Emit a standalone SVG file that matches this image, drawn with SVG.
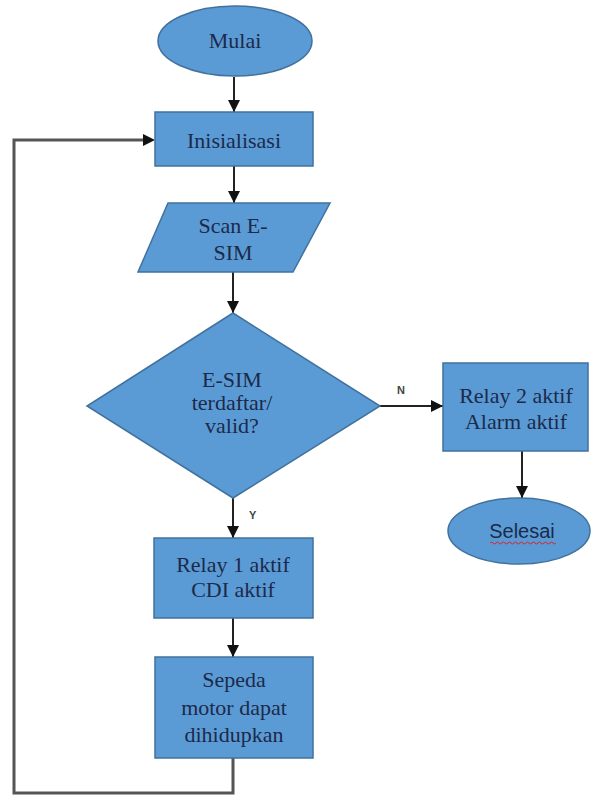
<svg xmlns="http://www.w3.org/2000/svg" width="592" height="796" viewBox="0 0 592 796">
  <style>
    .shape { fill: #5b9bd5; stroke: #41719c; stroke-width: 1.5; }
    .label { font-size: 22px; fill: #1c2a4a; text-anchor: middle; }
    .term { font-size: 20px; fill: #1c2a4a; text-anchor: middle; }
    .flow { fill: none; stroke: #222; stroke-width: 2; }
    .loop { fill: none; stroke: #555; stroke-width: 3; }
    .branch { font-size: 11px; font-weight: bold; fill: #444; }
  </style>
  <defs>
    <marker id="arrow" viewBox="0 0 10 10" refX="10" refY="5" markerWidth="6" markerHeight="6" orient="auto" markerUnits="strokeWidth">
      <path d="M0,0 L10,5 L0,10 z" fill="#111"/>
    </marker>
  </defs>
  <rect width="592" height="796" fill="#ffffff"/>

  <g id="connectors">
    <line class="flow" x1="234" y1="77" x2="234" y2="112" marker-end="url(#arrow)"/>
    <line class="flow" x1="234" y1="166" x2="234" y2="203" marker-end="url(#arrow)"/>
    <line class="flow" x1="233" y1="272" x2="233" y2="313" marker-end="url(#arrow)"/>
    <line class="flow" x1="233" y1="498" x2="233" y2="538" marker-end="url(#arrow)"/>
    <line class="flow" x1="233" y1="618" x2="233" y2="657" marker-end="url(#arrow)"/>
    <line class="flow" x1="380" y1="406" x2="443" y2="406" marker-end="url(#arrow)"/>
    <line class="flow" x1="522" y1="451" x2="522" y2="498" marker-end="url(#arrow)"/>
    <polyline class="loop" points="233,758 233,793 14,793 14,140 145,140"/>
    <path d="M143,134 L155,140 L143,146 z" fill="#111"/>
    <g font-family="Liberation Sans, Arial, sans-serif">
      <text class="branch" x="397" y="394">N</text>
      <text class="branch" x="249" y="519">Y</text>
    </g>
  </g>

  <g font-family="Liberation Serif, Times New Roman, serif">
    <g id="mulai">
      <ellipse class="shape" cx="235" cy="41" rx="77" ry="35"/>
      <text class="label" x="235" y="48">Mulai</text>
    </g>

    <g id="inisialisasi">
      <rect class="shape" x="155" y="112" width="158" height="54"/>
      <text class="label" x="234" y="148">Inisialisasi</text>
    </g>

    <g id="scan-esim">
      <polygon class="shape" points="168,203 330,203 293,272 138,272"/>
      <text class="label" x="233" y="233">Scan E-</text>
      <text class="label" x="233" y="260">SIM</text>
    </g>

    <g id="cek-esim">
      <polygon class="shape" points="233,313 380,406 233,498 87,406"/>
      <text class="label" x="232" y="387">E-SIM</text>
      <text class="label" x="232" y="410">terdaftar/</text>
      <text class="label" x="232" y="433">valid?</text>
    </g>

    <g id="relay2">
      <rect class="shape" x="443" y="363" width="145" height="88"/>
      <text class="label" x="516" y="403">Relay 2 aktif</text>
      <text class="label" x="516" y="429">Alarm aktif</text>
    </g>

    <g id="selesai">
      <ellipse class="shape" cx="519" cy="531" rx="71" ry="33"/>
      <text class="term" x="522" y="538" font-family="Liberation Sans, Arial, sans-serif">Selesai</text>
      <path d="M490,543 q1.5,-2 3,0 t3,0 t3,0 t3,0 t3,0 t3,0 t3,0 t3,0 t3,0 t3,0 t3,0 t3,0 t3,0 t3,0 t3,0 t3,0 t3,0 t3,0 t3,0 t3,0 t3,0 t3,0" fill="none" stroke="#e02020" stroke-width="1"/>
    </g>

    <g id="relay1">
      <rect class="shape" x="154" y="538" width="159" height="80"/>
      <text class="label" x="233" y="572">Relay 1 aktif</text>
      <text class="label" x="233" y="597">CDI aktif</text>
    </g>

    <g id="sepeda-motor">
      <rect class="shape" x="155" y="657" width="158" height="101"/>
      <text class="label" x="234" y="687">Sepeda</text>
      <text class="label" x="234" y="715">motor dapat</text>
      <text class="label" x="234" y="742">dihidupkan</text>
    </g>
  </g>
</svg>
